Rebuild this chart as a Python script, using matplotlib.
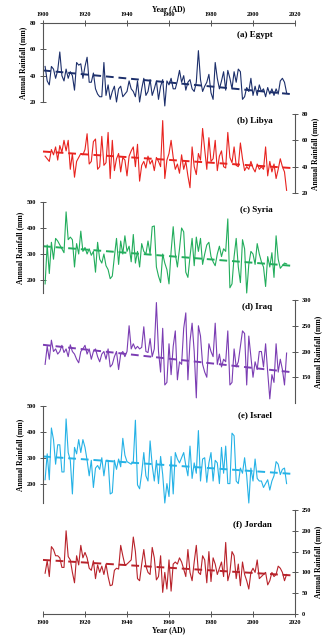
import numpy as np
import matplotlib
matplotlib.use("Agg")
from matplotlib import pyplot as plt

plt.rcParams['font.family'] = ['Liberation Serif', 'DejaVu Serif']
plt.rcParams['font.weight'] = 'bold'

years = np.arange(1901, 2017)
trend_years = [1900, 2018]

egypt = [47, 36, 33, 47, 45, 38, 44, 58, 40, 36,
         45, 38, 43, 40, 29, 50, 48, 49, 38, 47,
         54, 35, 35, 42, 30, 26, 24, 24, 50, 25,
         33, 22, 28, 32, 20, 30, 32, 24, 26, 28,
         36, 30, 28, 24, 36, 20, 30, 38, 25, 28,
         37, 25, 30, 36, 22, 32, 37, 17, 36, 33,
         38, 30, 30, 36, 44, 35, 40, 29, 35, 37,
         30, 28, 35, 59, 37, 28, 32, 35, 41, 27,
         22, 50, 38, 30, 36, 43, 29, 44, 38, 30,
         43, 35, 45, 43, 22, 24, 31, 28, 38, 25,
         32, 25, 33, 28, 30, 24, 31, 26, 30, 25,
         30, 26, 36, 38, 35, 27]
libya = [48, 46, 44, 53, 49, 55, 45, 56, 51, 60,
         52, 60, 38, 50, 32, 44, 47, 50, 49, 53,
         65, 42, 44, 59, 61, 38, 40, 63, 41, 43,
         66, 31, 60, 37, 46, 50, 36, 47, 45, 33,
         48, 52, 55, 40, 57, 29, 41, 44, 39, 48,
         42, 45, 37, 47, 44, 40, 75, 31, 45, 50,
         60, 47, 38, 42, 35, 49, 38, 44, 33, 24,
         55, 40, 34, 50, 45, 69, 53, 38, 62, 44,
         46, 60, 37, 48, 52, 40, 39, 66, 47, 43,
         55, 41, 40, 58, 46, 37, 40, 38, 44, 39,
         36, 42, 38, 40, 38, 55, 33, 44, 36, 42,
         31, 38, 46, 40, 36, 22]
syria = [185, 335, 225, 345, 280, 360, 350, 335, 320, 305,
         462, 355, 365, 355, 250, 340, 300, 388, 310, 325,
         300, 320, 295, 310, 230, 345, 280, 265, 300, 255,
         240, 205, 215, 290, 360, 260, 350, 300, 370, 310,
         330, 270, 375, 265, 310, 250, 340, 310, 300, 350,
         300, 405, 408, 250, 215, 190, 300, 265, 240, 185,
         310, 405, 300, 250, 320, 400, 385, 230, 210, 290,
         360, 255, 365, 310, 360, 260, 300, 335, 345, 290,
         270, 255, 300, 330, 290, 320, 310, 435, 170, 185,
         290, 360, 250, 190, 355, 320, 150, 260, 310, 300,
         260, 340, 300, 270, 250, 175, 290, 250, 305, 210,
         370, 280, 245, 255, 265, 262]
iraq = [175, 210, 185, 222, 200, 205, 195, 200, 212, 198,
        205, 190, 213, 200, 195, 185, 178, 200, 205, 212,
        195, 205, 185, 200, 205, 190, 180, 195, 200, 185,
        205, 170, 175, 190, 200, 165, 195, 200, 190, 200,
        250, 205, 215, 205, 210, 205, 208, 248, 200, 198,
        225, 190, 205, 295, 200, 160, 245, 135, 140, 215,
        155, 210, 240, 145, 180, 175, 245, 275, 145, 220,
        255, 200, 110, 250, 230, 175, 160, 150, 215, 200,
        190, 255, 175, 195, 170, 185, 180, 240, 135, 140,
        205, 170, 180, 210, 240, 235, 135, 230, 190, 150,
        180, 165, 200, 200, 170, 215, 160, 108, 155, 140,
        215, 160, 185, 165, 135, 197]
israel = [215, 315, 215, 415, 370, 275, 350, 350, 245, 245,
          450, 320, 290, 160, 340, 315, 370, 320, 370, 340,
          290, 230, 290, 185, 260, 270, 255, 300, 230, 290,
          290, 160, 165, 290, 255, 295, 265, 375, 310, 285,
          280, 275, 285, 445, 195, 180, 240, 320, 230, 210,
          365, 270, 210, 290, 200, 305, 235, 125, 200, 150,
          305, 160, 320, 295, 280, 300, 320, 270, 230, 345,
          220, 280, 240, 405, 210, 295, 300, 205, 280, 320,
          210, 290, 280, 200, 340, 240, 345, 200, 200, 395,
          385, 210, 200, 260, 240, 300, 230, 125, 260, 210,
          295, 220, 210, 210, 185, 200, 215, 175, 210, 230,
          285, 275, 235, 255, 260, 200]
jordan = [98, 128, 90, 162, 155, 140, 140, 135, 112, 112,
          200, 138, 130, 100, 75, 140, 118, 165, 135, 148,
          135, 110, 105, 128, 85, 118, 100, 115, 95, 120,
          90, 68, 70, 105, 110, 108, 165, 140, 118, 120,
          125, 130, 185, 150, 85, 80, 120, 155, 115, 100,
          95, 160, 135, 82, 90, 140, 52, 100, 60, 130,
          55, 120, 125, 120, 135, 125, 108, 90, 155, 100,
          80, 125, 165, 100, 95, 140, 130, 75, 150, 78,
          135, 120, 95, 110, 125, 90, 172, 80, 100, 150,
          140, 85, 120, 68, 125, 95, 80, 60, 100, 110,
          100, 130, 85, 90, 95, 100, 70, 80, 100, 90,
          95, 115, 110, 100, 80, 95]

egypt_trend = [44, 26]
libya_trend = [51.5, 39]
syria_trend = [330, 255]
iraq_trend = [213, 160]
israel_trend = [305, 238]
jordan_trend = [130, 93]

labels = ['(a) Egypt', '(b) Libya', '(c) Syria', '(d) Iraq', '(e) Israel', '(f) Jordan']
series = [egypt, libya, syria, iraq, israel, jordan]
trends = [egypt_trend, libya_trend, syria_trend, iraq_trend, israel_trend, jordan_trend]
colors = ['#1c2f6b', '#e8231f', '#22ad5c', '#7b3db3', '#25b2e6', '#b8222a']
# ylim, pixel rows of ylim low/high, tick values, side of y axis, label row
panels = [
    ((20, 80), (102, 23), [20, 40, 60, 80], 'left', 35),
    ((20, 80), (193, 114), [20, 40, 60, 80], 'right', 121),
    ((150, 500), (293, 202), [200, 300, 400, 500], 'left', 210),
    ((100, 300), (403, 300), [150, 200, 250, 300], 'right', 307),
    ((125, 500), (503, 406), [200, 300, 400, 500], 'left', 415),
    ((0, 250), (614, 510), [0, 50, 100, 150, 200, 250], 'right', 524),
]

W, H = 330, 637
fig = plt.figure(figsize=(W / 100, H / 100), dpi=100)
x0, x1 = 43, 295
axis_col = '#555555'

for i, (ylim, (plo, phi), yt, side, ly) in enumerate(panels):
    ax = fig.add_axes([x0 / W, 1 - plo / H, (x1 - x0) / W, (plo - phi) / H])
    ax.patch.set_visible(False)
    ax.plot(years, series[i], color=colors[i], lw=0.8, clip_on=False)
    ax.plot(trend_years, trends[i], color=colors[i], lw=1.4, ls=(0, (4, 2.5)), clip_on=False)
    ax.set_xlim(1900, 2020)
    ax.set_ylim(*ylim)
    for s in ax.spines.values():
        s.set_visible(False)
        s.set_color(axis_col)
        s.set_linewidth(0.8)
    ax.spines[side].set_visible(True)
    ax.set_yticks(yt)
    ax.tick_params(axis='y', direction='inout', length=4, width=0.7, color=axis_col,
                   labelsize=4.5, pad=3)
    if side == 'right':
        ax.yaxis.tick_right()
        ax.yaxis.set_label_position('right')
    ax.set_ylabel('Annual Rainfall (mm)', fontsize=5.5, fontweight='bold', labelpad=2)
    ax.text(0.91, 1 - (ly - phi) / (plo - phi), labels[i], transform=ax.transAxes,
            ha='right', va='center', fontsize=6.5, fontweight='bold')
    xt = np.arange(1900, 2021, 20)
    if i == 0:
        ax.spines['top'].set_visible(True)
        ax.xaxis.tick_top()
        ax.xaxis.set_label_position('top')
        ax.set_xticks(xt)
        ax.set_xlabel('Year (AD)', fontsize=5.5, fontweight='bold', labelpad=1)
    elif i == 5:
        ax.spines['bottom'].set_visible(True)
        ax.set_xticks(xt)
        ax.set_xlabel('Year (AD)', fontsize=5.5, fontweight='bold', labelpad=1)
    else:
        ax.set_xticks([])
    ax.tick_params(axis='x', direction='inout', length=4, width=0.7, color=axis_col,
                   labelsize=4.5, pad=2)

fig.savefig('out.png', dpi=100)
